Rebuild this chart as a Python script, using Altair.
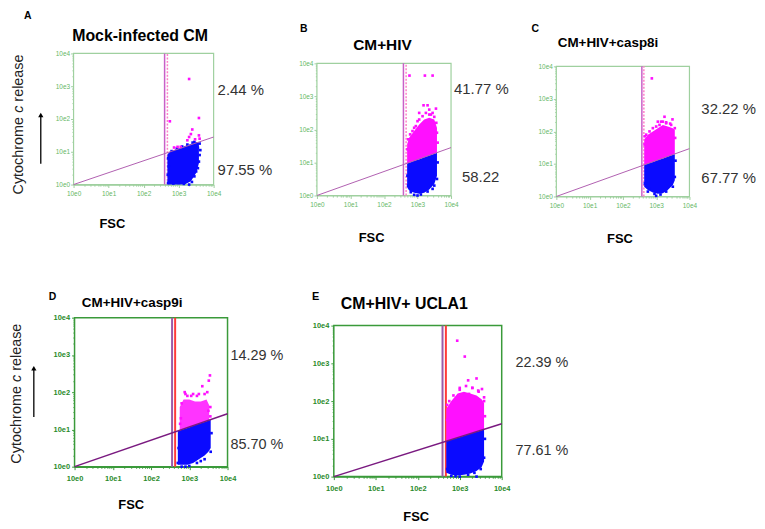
import math
import altair as alt
import pandas as pd

FONT = "Liberation Sans"
BLUE = "#0a0aff"
MAGENTA = "#ff10ff"

# ---------------- data (log10 units) ----------------
# Panel A: Mock-infected CM
A_X = [2.68, 2.75, 2.9, 3.05, 3.2, 3.35, 3.5, 3.58]
A_BLUE_LO = [0.0, 0.0, 0.0, 0.0, 0.02, 0.1, 0.35, 0.65]
A_BLUE_HI = [0.92, 1.0, 1.06, 1.12, 1.18, 1.24, 1.3, 1.28]
A_BLUE_PTS_X = [2.72, 2.7, 2.8, 2.95, 3.1, 3.25, 3.4, 3.55, 3.6, 3.55, 3.45, 3.38, 2.85, 3.0,
                3.15, 3.6, 2.69, 2.7, 3.3, 3.5, 3.58, 3.62, 3.45]
A_BLUE_PTS_Y = [0.55, 0.8, 1.02, 1.1, 1.16, 1.22, 1.28, 1.12, 0.9, 0.5, 0.25, 0.08, 0.03, 0.05,
                0.02, 1.25, 0.3, 0.05, 0.0, 0.4, 0.7, 1.05, 1.3]
A_MAG_PTS_X = [2.75, 3.30, 3.58, 3.39, 3.35, 3.30, 3.06, 2.87, 3.58, 3.60, 3.25, 2.97, 3.47]
A_MAG_PTS_Y = [1.93, 3.22, 2.03, 1.68, 1.54, 1.45, 1.15, 1.13, 1.5, 1.40, 1.35, 1.15, 1.38]
A_GATES = [2.6, 2.68]
A_DIAG_END = 1.45

# Panel B: CM+HIV
B_X = [2.69, 2.75, 2.9, 3.05, 3.2, 3.35, 3.5, 3.58]
B_BLUE_LO = [0.25, 0.15, 0.08, 0.05, 0.08, 0.18, 0.35, 0.6]
B_BOUND = [0.97, 0.99, 1.05, 1.10, 1.16, 1.21, 1.26, 1.29]
B_MAG_HI = [1.55, 1.75, 1.95, 2.15, 2.3, 2.35, 2.3, 2.05]
B_BLUE_PTS_X = [2.72, 2.8, 3.0, 3.1, 3.3, 3.5, 3.58, 3.6, 2.7, 3.45, 2.9]
B_BLUE_PTS_Y = [0.3, 0.1, 0.0, 0.03, 0.12, 0.3, 0.5, 1.0, 0.6, 0.2, 0.02]
B_MAG_PTS_X = [2.76, 3.22, 3.45, 3.30, 3.18, 3.55, 3.5, 3.4, 3.05, 2.85, 2.72, 3.58, 3.25, 2.95,
               2.7, 2.78, 2.9, 3.0, 3.15, 3.35, 3.45, 3.56, 3.6, 3.05, 3.35]
B_MAG_PTS_Y = [3.63, 3.63, 3.63, 2.73, 2.73, 2.63, 2.38, 2.45, 2.3, 1.95, 1.7, 1.9, 2.5, 2.1,
               1.4, 1.85, 2.05, 2.25, 2.4, 2.45, 2.5, 2.2, 1.6, 2.5, 2.6]
B_GATES = [2.58, 2.66]
B_DIAG_END = 1.45

# Panel C: CM+HIV+casp8i
C_X = [2.64, 2.75, 2.9, 3.05, 3.2, 3.35, 3.5, 3.56]
C_BLUE_LO = [0.3, 0.2, 0.12, 0.08, 0.1, 0.2, 0.35, 0.5]
C_BOUND = [0.97, 1.01, 1.06, 1.12, 1.17, 1.23, 1.28, 1.30]
C_MAG_HI = [1.75, 1.9, 2.0, 2.1, 2.2, 2.15, 2.1, 2.05]
C_BLUE_PTS_X = [2.66, 2.75, 2.95, 3.13, 3.0, 3.3, 3.5, 3.56, 3.58, 2.8]
C_BLUE_PTS_Y = [0.4, 0.15, 0.08, 0.06, 0.02, 0.15, 0.3, 0.6, 1.1, 0.25]
C_MAG_PTS_X = [2.87, 3.49, 3.42, 3.3, 3.1, 2.9, 2.7, 3.56, 3.2, 2.65,
               2.66, 2.8, 3.0, 3.15, 3.3, 3.45, 3.57, 3.25, 3.05]
C_MAG_PTS_Y = [3.63, 2.37, 2.24, 2.28, 2.2, 2.1, 1.9, 2.1, 2.3, 1.6,
               1.85, 2.0, 2.15, 2.3, 2.25, 2.2, 1.8, 2.45, 2.3]
C_GATES = [2.57, 2.63]
C_DIAG_END = 1.47

# Panel D: CM+HIV+casp9i
D_X = [2.7, 2.8, 2.95, 3.1, 3.25, 3.4, 3.5, 3.56]
D_BLUE_LO = [0.05, 0.05, 0.05, 0.1, 0.2, 0.3, 0.4, 0.5]
D_BLUE_HI = [0.95, 0.99, 1.04, 1.10, 1.15, 1.20, 1.24, 1.26]
D_MAG_X = [2.75, 2.85, 3.0, 3.15, 3.3, 3.45, 3.52]
D_MAG_LO = [0.97, 1.01, 1.06, 1.12, 1.17, 1.22, 1.25]
D_MAG_HI = [1.6, 1.8, 1.8, 1.75, 1.75, 1.8, 1.65]
D_BLUE_PTS_X = [2.7, 2.72, 2.8, 3.0, 3.2, 3.4, 3.56, 3.58, 2.9, 3.3]
D_BLUE_PTS_Y = [0.1, 0.5, 0.0, 0.02, 0.1, 0.2, 0.4, 0.9, 0.0, 0.15]
D_MAG_PTS_X = [3.54, 3.51, 3.34, 2.88, 3.47, 2.78, 3.1, 3.2, 3.5, 2.95, 3.4,
               2.8, 2.9, 3.05, 3.25, 3.55, 3.55, 2.76]
D_MAG_PTS_Y = [2.45, 2.31, 2.16, 2.0, 2.0, 1.3, 1.95, 1.9, 1.5, 1.9, 1.95,
               1.7, 1.95, 1.9, 1.95, 1.6, 1.35, 1.15]
D_GATES = [2.55, 2.63]
D_DIAG_END = 1.42

# Panel E: CM+HIV+ UCLA1
E_X = [2.68, 2.8, 2.95, 3.1, 3.25, 3.4, 3.52, 3.58]
E_BLUE_LO = [0.1, 0.05, 0.03, 0.05, 0.08, 0.15, 0.25, 0.4]
E_BOUND = [0.94, 0.98, 1.03, 1.08, 1.14, 1.19, 1.23, 1.25]
E_MAG_HI = [1.8, 2.0, 2.2, 2.25, 2.2, 2.15, 2.05, 1.95]
E_BLUE_PTS_X = [2.7, 2.8, 3.0, 3.2, 3.35, 3.5, 3.58, 3.6, 2.9, 3.4]
E_BLUE_PTS_Y = [0.2, 0.02, 0.0, 0.05, 0.1, 0.2, 0.5, 1.0, 0.01, 0.0]
E_MAG_PTS_X = [2.94, 3.12, 3.44, 3.53, 3.22, 3.3, 3.0, 2.75, 3.58, 2.7,
               2.7, 2.85, 3.0, 3.15, 3.3, 3.45, 3.58, 3.6, 3.2, 3.4]
E_MAG_PTS_Y = [3.60, 3.18, 2.28, 2.32, 2.19, 2.35, 2.3, 2.0, 2.1, 1.5,
               1.9, 2.15, 2.35, 2.4, 2.35, 2.25, 2.0, 1.6, 2.55, 2.6]
E_GATES = [2.59, 2.67]
E_DIAG_END = 1.40

TITLES = ["Mock-infected CM", "CM+HIV", "CM+HIV+casp8i", "CM+HIV+casp9i", "CM+HIV+ UCLA1"]
LETTERS = ["A", "B", "C", "D", "E"]
UPPER_PCT = ["2.44 %", "41.77 %", "32.22 %", "14.29 %", "22.39 %"]
LOWER_PCT = ["97.55 %", "58.22", "67.77 %", "85.70 %", "77.61 %"]

AX_MIN, AX_MAX = 0, 4
MAJOR = [0, 1, 2, 3, 4]
TICKS = MAJOR + [d + math.log10(k) for d in range(4) for k in range(2, 10)]


def txt(t, x, y, size, weight="normal", color="black", align="left",
        baseline="middle", angle=0, style="normal"):
    kw = dict(text=t, fontSize=size, fontWeight=weight, color=color, align=align,
              baseline=baseline, font=FONT, fontStyle=style)
    if angle:
        kw["angle"] = angle
    return alt.Chart(pd.DataFrame({"k": [0]})).mark_text(**kw).encode(
        x=alt.value(x), y=alt.value(y))


def panel(idx, gw, gh, plot, cloud, mag_area, bpts, mpts, gates, diag,
          bottom_style, pos, mag_opacity=1.0):
    L, R, T, B = plot
    if bottom_style:
        frame_c, lab_c, lab_w, lab_s, fw = "#3a9a3a", "#2a8a2a", "bold", 7.5, 1.5
        gate_c = ["#9a5aa8", "#ff3a3a"]
        gate_dash = [[1, 0], [1, 0]]
        gate_w = [2, 2]
        diag_c, diag_w = "#7a1a80", 1.5
        xpad, ypad = 5, 2
        pct_s = 14.5
    else:
        frame_c, lab_c, lab_w, lab_s, fw = "#9fd09f", "#66b866", "normal", 6.5, 1.2
        gate_c = ["#c860c8", "#ff80c8"]
        gate_dash = [[1, 0], [2, 1.5]]
        gate_w = [1.5, 1.5]
        diag_c, diag_w = "#b060b0", 1
        xpad, ypad = 3.5, 1
        pct_s = 15

    xs = alt.Scale(domain=[AX_MIN, AX_MAX], range=[L, R], nice=False, zero=False)
    ys = alt.Scale(domain=[AX_MIN, AX_MAX], range=[B, T], nice=False, zero=False)
    tick_size = {"condition": {"test": "datum.value % 1 === 0", "value": 3}, "value": 1.6}
    common = dict(values=TICKS, labelExpr="datum.value % 1 === 0 ? '10e' + datum.value : ''",
                  title=None, grid=False, domainColor=frame_c, tickColor=frame_c,
                  labelColor=lab_c, labelFont=FONT, labelFontSize=lab_s,
                  labelFontWeight=lab_w, labelOverlap=False, labelFlush=False,
                  tickSize=tick_size, domainWidth=fw, tickWidth=1)
    ax_x = alt.Axis(offset=B - gh, labelPadding=xpad, **common)
    ax_y = alt.Axis(offset=-L, labelPadding=ypad, **common)

    def X(f):
        return alt.X(f, type="quantitative", scale=xs, axis=ax_x)

    def Y(f):
        return alt.Y(f, type="quantitative", scale=ys, axis=ax_y)

    layers = []
    frame = pd.DataFrame({"x": [AX_MIN], "x1": [AX_MAX], "y": [AX_MIN], "y1": [AX_MAX]})
    layers.append(alt.Chart(frame).mark_rect(fill="white", stroke=frame_c, strokeWidth=fw)
                  .encode(x=X("x"), x2="x1", y=Y("y"), y2="y1"))
    for g, c, d, w in zip(gates, gate_c, gate_dash, gate_w):
        gd = pd.DataFrame({"x": [g], "y": [AX_MIN], "y1": [AX_MAX]})
        layers.append(alt.Chart(gd).mark_rule(color=c, strokeDash=d, strokeWidth=w)
                      .encode(x=X("x"), y=Y("y"), y2="y1"))
    cx, clo, chi = cloud
    layers.append(alt.Chart(pd.DataFrame({"x": cx, "y": chi, "y1": clo}))
                  .mark_area(color=BLUE, interpolate="linear")
                  .encode(x=X("x"), y=Y("y"), y2="y1"))
    if mag_area is not None:
        mx, mlo, mhi = mag_area
        layers.append(alt.Chart(pd.DataFrame({"x": mx, "y": mhi, "y1": mlo}))
                      .mark_area(color=MAGENTA, interpolate="linear", opacity=mag_opacity)
                      .encode(x=X("x"), y=Y("y"), y2="y1"))
    layers.append(alt.Chart(pd.DataFrame({"x": bpts[0], "y": bpts[1]}))
                  .mark_square(color=BLUE, size=7, opacity=1)
                  .encode(x=X("x"), y=Y("y")))
    layers.append(alt.Chart(pd.DataFrame({"x": mpts[0], "y": mpts[1]}))
                  .mark_square(color=MAGENTA, size=7, opacity=1)
                  .encode(x=X("x"), y=Y("y")))
    layers.append(alt.Chart(pd.DataFrame({"x": [AX_MIN, AX_MAX], "y": [AX_MIN, diag]}))
                  .mark_line(color=diag_c, strokeWidth=diag_w)
                  .encode(x=X("x"), y=Y("y")))

    # texts
    layers.append(txt(LETTERS[idx], pos["letter"][0], pos["letter"][1], pos["letter_s"],
                      weight="bold", baseline="alphabetic"))
    layers.append(txt(TITLES[idx], pos["title"][0], pos["title"][1], pos["title_s"],
                      weight="bold", align="center"))
    layers.append(txt(UPPER_PCT[idx], pos["up"][0], pos["up"][1], pct_s, color="#333333"))
    layers.append(txt(LOWER_PCT[idx], pos["lo"][0], pos["lo"][1], pct_s, color="#333333"))
    layers.append(txt("FSC", pos["fsc"][0], pos["fsc"][1], 13, weight="bold", align="center"))
    if "ytitle" in pos:
        tx, ty = pos["ytitle"]
        fs = 14.5
        w1 = 5.39 * fs + 0.278 * fs
        w2 = 0.5 * fs + 0.278 * fs
        layers.append(txt("Cytochrome", tx, ty, fs, color="#222222", angle=270))
        layers.append(txt("c", tx, ty - w1, fs, color="#222222", angle=270, style="italic"))
        layers.append(txt("release", tx, ty - w1 - w2, fs, color="#222222", angle=270))
        axx, ay0, ay1 = pos["arrow"]
        layers.append(alt.Chart(pd.DataFrame({"k": [0]})).mark_rule(color="black", strokeWidth=1.3)
                      .encode(x=alt.value(axx), y=alt.value(ay0), y2=alt.value(ay1 + 3)))
        layers.append(alt.Chart(pd.DataFrame({"k": [0]}))
                      .mark_point(shape="triangle-up", filled=True, color="black", size=28, opacity=1)
                      .encode(x=alt.value(axx), y=alt.value(ay1 + 3)))

    return alt.layer(*layers).properties(width=gw, height=gh)


pA = panel(0, 250, 262, (64, 205, 43, 175),
           (A_X, A_BLUE_LO, A_BLUE_HI), None,
           (A_BLUE_PTS_X, A_BLUE_PTS_Y), (A_MAG_PTS_X, A_MAG_PTS_Y),
           A_GATES, A_DIAG_END, False,
           {"letter": (14, 8.5), "letter_s": 10.5, "title": (131, 25), "title_s": 16,
            "up": (209, 80), "lo": (209, 160), "fsc": (103, 215),
            "ytitle": (9.5, 185), "arrow": (31, 154, 102)})
pB = panel(1, 250, 262, (59, 194, 53, 186),
           (B_X, B_BLUE_LO, B_BOUND), (B_X, B_BOUND, B_MAG_HI),
           (B_BLUE_PTS_X, B_BLUE_PTS_Y), (B_MAG_PTS_X, B_MAG_PTS_Y),
           B_GATES, B_DIAG_END, False,
           {"letter": (42, 21), "letter_s": 10.5, "title": (125, 35), "title_s": 15.5,
            "up": (197, 79), "lo": (205, 167), "fsc": (114, 229)})
pC = panel(2, 249, 262, (50, 184, 56, 187),
           (C_X, C_BLUE_LO, C_BOUND), (C_X, C_BOUND, C_MAG_HI),
           (C_BLUE_PTS_X, C_BLUE_PTS_Y), (C_MAG_PTS_X, C_MAG_PTS_Y),
           C_GATES, C_DIAG_END, False,
           {"letter": (25, 21), "letter_s": 10.5, "title": (102, 33), "title_s": 13.5,
            "up": (196, 99), "lo": (196, 168), "fsc": (114, 230)})
pD = panel(3, 272, 251, (65, 219, 45, 195),
           (D_X, D_BLUE_LO, D_BLUE_HI), (D_MAG_X, D_MAG_LO, D_MAG_HI),
           (D_BLUE_PTS_X, D_BLUE_PTS_Y), (D_MAG_PTS_X, D_MAG_PTS_Y),
           D_GATES, D_DIAG_END, True,
           {"letter": (39, 27), "letter_s": 10.5, "title": (123, 30), "title_s": 13.5,
            "up": (222, 84), "lo": (222, 173), "fsc": (122, 234),
            "ytitle": (7.5, 192), "arrow": (24, 145, 93)}, mag_opacity=0.85)
pE = panel(4, 477, 251, (54, 223, 53, 205),
           (E_X, E_BLUE_LO, E_BOUND), (E_X, E_BOUND, E_MAG_HI),
           (E_BLUE_PTS_X, E_BLUE_PTS_Y), (E_MAG_PTS_X, E_MAG_PTS_Y),
           E_GATES, E_DIAG_END, True,
           {"letter": (32, 27), "letter_s": 11, "title": (125, 31), "title_s": 16,
            "up": (237, 91), "lo": (237, 179), "fsc": (137, 246)})

row1 = alt.hconcat(pA, pB, pC, spacing=0, bounds="flush")
row2 = alt.hconcat(pD, pE, spacing=0, bounds="flush")
chart = (alt.vconcat(row1, row2, spacing=0)
         .properties(padding=0, background="white")
         .configure_view(stroke="transparent"))

chart.save("out.html", embed_options={"renderer": "svg", "actions": False})
